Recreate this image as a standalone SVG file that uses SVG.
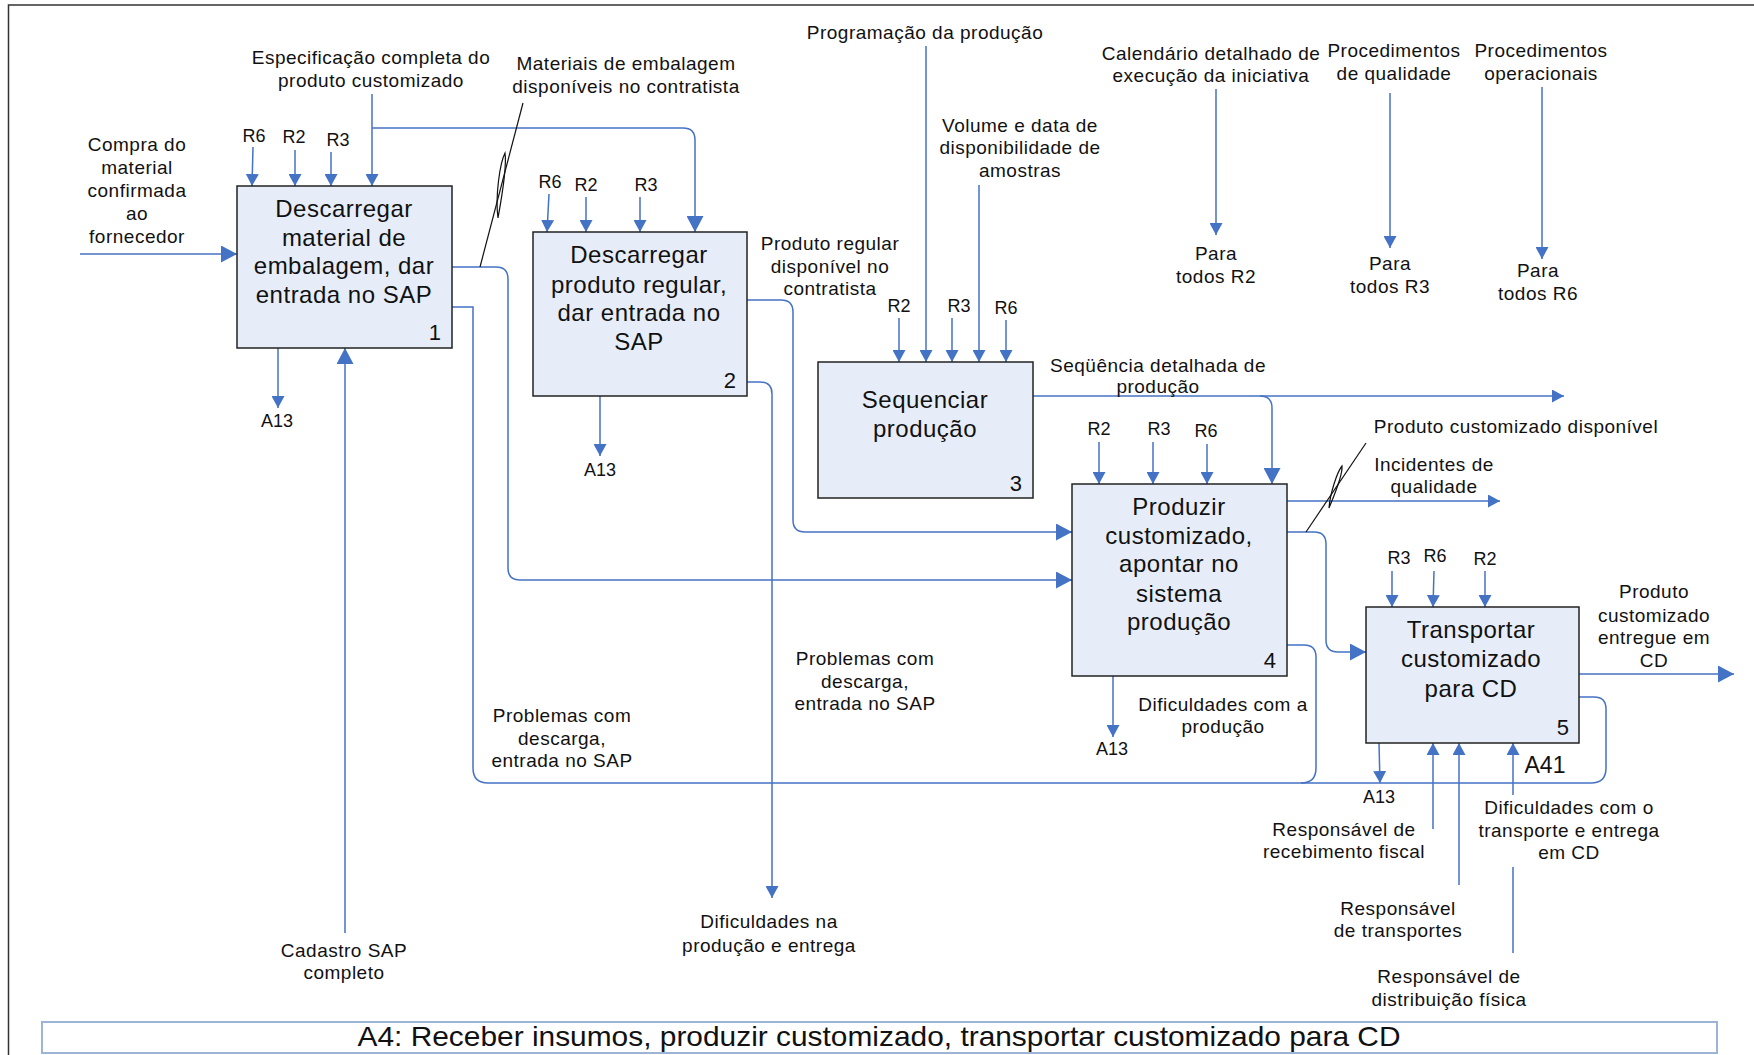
<svg xmlns="http://www.w3.org/2000/svg" width="1754" height="1055" viewBox="0 0 1754 1055">
<defs>
<marker id="s" markerUnits="userSpaceOnUse" markerWidth="12" markerHeight="13" refX="12" refY="6.5" orient="auto"><path d="M0,0 L12,6.5 L0,13 Z" fill="#4472C4"/></marker>
<marker id="l" markerUnits="userSpaceOnUse" markerWidth="16" markerHeight="17" refX="16" refY="8.5" orient="auto"><path d="M0,0 L16,8.5 L0,17 Z" fill="#4472C4"/></marker>
<style>
text{font-family:"Liberation Sans",Arial,sans-serif;fill:#111;text-anchor:middle}
.t{font-size:19px;letter-spacing:0.5px}
.r{font-size:18px}
.bt{font-size:24px;letter-spacing:0.5px}
.n{font-size:22px;text-anchor:end}
.box{fill:#E7EDF8;stroke:#222;stroke-width:1.5}
.c{fill:none;stroke:#4472C4;stroke-width:1.5}
.k{fill:none;stroke:#111;stroke-width:1.2}
</style>
</defs>
<rect width="1754" height="1055" fill="#fff"/>
<path d="M8.5,1055 V5 H1754" fill="none" stroke="#333" stroke-width="1.5"/>
<rect x="42" y="1022" width="1675" height="31" fill="#fff" stroke="#9DB4D6" stroke-width="2"/>
<text x="879" y="1046" style="font-size:28px" textLength="1043" lengthAdjust="spacingAndGlyphs">A4: Receber insumos, produzir customizado, transportar customizado para CD</text>

<g id="connectors">
<path class="c" d="M80,254 H237" marker-end="url(#l)"/>
<path class="c" d="M253,147 L252,186" marker-end="url(#s)"/>
<path class="c" d="M295,150 V186" marker-end="url(#s)"/>
<path class="c" d="M331,152 V186" marker-end="url(#s)"/>
<path class="c" d="M372,94 V186" marker-end="url(#s)"/>
<path class="c" d="M372,128 H683 Q695,128 695,140 V232" marker-end="url(#l)"/>
<path class="c" d="M278,348 V408" marker-end="url(#s)"/>
<path class="c" d="M345,933 V348" marker-end="url(#l)"/>
<path class="c" d="M452,267 H496 Q508,267 508,279 V568 Q508,580 520,580 H1072" marker-end="url(#l)"/>
<path class="c" d="M452,307 H473 V768 Q473,783 488,783 H1591 Q1606,783 1606,768 V709 Q1606,697 1594,697 H1579"/>
<path class="c" d="M1287,645 H1304 Q1316,645 1316,657 V768 Q1316,783 1301,783"/>
<path class="c" d="M549,194 L547,232" marker-end="url(#s)"/>
<path class="c" d="M586,197 V232" marker-end="url(#s)"/>
<path class="c" d="M640,197 V232" marker-end="url(#s)"/>
<path class="c" d="M600,396 V456" marker-end="url(#s)"/>
<path class="c" d="M747,300 H781 Q793,300 793,312 V520 Q793,532 805,532 H1072" marker-end="url(#l)"/>
<path class="c" d="M747,382 H760 Q772,382 772,394 V898" marker-end="url(#s)"/>
<path class="c" d="M926,46 V362" marker-end="url(#s)"/>
<path class="c" d="M979,185 V362" marker-end="url(#s)"/>
<path class="c" d="M899,318 V362" marker-end="url(#s)"/>
<path class="c" d="M952,318 V362" marker-end="url(#s)"/>
<path class="c" d="M1006,320 V362" marker-end="url(#s)"/>
<path class="c" d="M1033,396 H1564" marker-end="url(#s)"/>
<path class="c" d="M1260,396 Q1272,396 1272,408 V484" marker-end="url(#l)"/>
<path class="c" d="M1099,442 V484" marker-end="url(#s)"/>
<path class="c" d="M1153,442 V484" marker-end="url(#s)"/>
<path class="c" d="M1207,444 V484" marker-end="url(#s)"/>
<path class="c" d="M1287,501 H1500" marker-end="url(#s)"/>
<path class="c" d="M1287,532 H1314 Q1326,532 1326,544 V640 Q1326,652 1338,652 H1366" marker-end="url(#l)"/>
<path class="c" d="M1113,676 V737" marker-end="url(#s)"/>
<path class="c" d="M1392,571 V607" marker-end="url(#s)"/>
<path class="c" d="M1434,571 L1433,607" marker-end="url(#s)"/>
<path class="c" d="M1485,571 V607" marker-end="url(#s)"/>
<path class="c" d="M1579,674 H1734" marker-end="url(#l)"/>
<path class="c" d="M1379,743 L1380,783" marker-end="url(#s)"/>
<path class="c" d="M1433,829 V743" marker-end="url(#s)"/>
<path class="c" d="M1459,885 V743" marker-end="url(#s)"/>
<path class="c" d="M1513,795 V743" marker-end="url(#s)"/>
<path class="c" d="M1513,867 V953"/>
<path class="c" d="M1216,89 V235" marker-end="url(#s)"/>
<path class="c" d="M1390,93 V248" marker-end="url(#s)"/>
<path class="c" d="M1542,87 V259" marker-end="url(#s)"/>
<path class="k" d="M480,267 L523,103"/>
<path class="k" d="M498,218 C502,196 507,166 505,153 C500,163 495,196 498,218 Z"/>
<path class="k" d="M1306,532 L1366,443"/>
<path class="k" d="M1329,508 C1334,496 1343,475 1342,466 C1337,472 1330,494 1329,508 Z"/>
</g>

<g id="node1">
<rect class="box" x="237" y="186" width="215" height="162"/>
<text class="bt" x="344" y="217">Descarregar</text>
<text class="bt" x="344" y="246">material de</text>
<text class="bt" x="344" y="274">embalagem, dar</text>
<text class="bt" x="344" y="303">entrada no SAP</text>
<text class="n" x="441" y="340">1</text>
</g>
<g id="node2">
<rect class="box" x="533" y="232" width="214" height="164"/>
<text class="bt" x="639" y="263">Descarregar</text>
<text class="bt" x="639" y="293">produto regular,</text>
<text class="bt" x="639" y="321">dar entrada no</text>
<text class="bt" x="639" y="350">SAP</text>
<text class="n" x="736" y="388">2</text>
</g>
<g id="node3">
<rect class="box" x="818" y="362" width="215" height="136"/>
<text class="bt" x="925" y="408">Sequenciar</text>
<text class="bt" x="925" y="437">produção</text>
<text class="n" x="1022" y="491">3</text>
</g>
<g id="node4">
<rect class="box" x="1072" y="484" width="215" height="192"/>
<text class="bt" x="1179" y="515">Produzir</text>
<text class="bt" x="1179" y="544">customizado,</text>
<text class="bt" x="1179" y="572">apontar no</text>
<text class="bt" x="1179" y="602">sistema</text>
<text class="bt" x="1179" y="630">produção</text>
<text class="n" x="1276" y="668">4</text>
</g>
<g id="node5">
<rect class="box" x="1366" y="607" width="213" height="136"/>
<text class="bt" x="1471" y="638">Transportar</text>
<text class="bt" x="1471" y="667">customizado</text>
<text class="bt" x="1471" y="697">para CD</text>
<text class="n" x="1569" y="735">5</text>
</g>

<g id="labels">
<text class="t" x="137" y="151">Compra do</text>
<text class="t" x="137" y="174">material</text>
<text class="t" x="137" y="197">confirmada</text>
<text class="t" x="137" y="220">ao</text>
<text class="t" x="137" y="243">fornecedor</text>
<text class="t" x="371" y="64">Especificação completa do</text>
<text class="t" x="371" y="87">produto customizado</text>
<text class="t" x="626" y="70">Materiais de embalagem</text>
<text class="t" x="626" y="93">disponíveis no contratista</text>
<text class="t" x="925" y="39">Programação da produção</text>
<text class="t" x="1020" y="132">Volume e data de</text>
<text class="t" x="1020" y="154">disponibilidade de</text>
<text class="t" x="1020" y="177">amostras</text>
<text class="t" x="1211" y="60">Calendário detalhado de</text>
<text class="t" x="1211" y="82">execução da iniciativa</text>
<text class="t" x="1394" y="57">Procedimentos</text>
<text class="t" x="1394" y="80">de qualidade</text>
<text class="t" x="1541" y="57">Procedimentos</text>
<text class="t" x="1541" y="80">operacionais</text>
<text class="t" x="1216" y="260">Para</text>
<text class="t" x="1216" y="283">todos R2</text>
<text class="t" x="1390" y="270">Para</text>
<text class="t" x="1390" y="293">todos R3</text>
<text class="t" x="1538" y="277">Para</text>
<text class="t" x="1538" y="300">todos R6</text>
<text class="r" x="254" y="142">R6</text>
<text class="r" x="294" y="143">R2</text>
<text class="r" x="338" y="146">R3</text>
<text class="r" x="550" y="188">R6</text>
<text class="r" x="586" y="191">R2</text>
<text class="r" x="646" y="191">R3</text>
<text class="t" x="830" y="250">Produto regular</text>
<text class="t" x="830" y="273">disponível no</text>
<text class="t" x="830" y="295">contratista</text>
<text class="r" x="899" y="312">R2</text>
<text class="r" x="959" y="312">R3</text>
<text class="r" x="1006" y="314">R6</text>
<text class="t" x="1158" y="372">Seqüência detalhada de</text>
<text class="t" x="1158" y="393">produção</text>
<text class="r" x="1099" y="435">R2</text>
<text class="r" x="1159" y="435">R3</text>
<text class="r" x="1206" y="437">R6</text>
<text class="t" x="1516" y="433">Produto customizado disponível</text>
<text class="t" x="1434" y="471">Incidentes de</text>
<text class="t" x="1434" y="493">qualidade</text>
<text class="r" x="1399" y="564">R3</text>
<text class="r" x="1435" y="562">R6</text>
<text class="r" x="1485" y="565">R2</text>
<text class="t" x="1654" y="598">Produto</text>
<text class="t" x="1654" y="622">customizado</text>
<text class="t" x="1654" y="644">entregue em</text>
<text class="t" x="1654" y="667">CD</text>
<text class="r" x="277" y="427">A13</text>
<text class="r" x="600" y="476">A13</text>
<text class="r" x="1112" y="755">A13</text>
<text class="r" x="1379" y="803">A13</text>
<text class="t" x="1223" y="711">Dificuldades com a</text>
<text class="t" x="1223" y="733">produção</text>
<text class="t" x="562" y="722">Problemas com</text>
<text class="t" x="562" y="745">descarga,</text>
<text class="t" x="562" y="767">entrada no SAP</text>
<text class="t" x="865" y="665">Problemas com</text>
<text class="t" x="865" y="688">descarga,</text>
<text class="t" x="865" y="710">entrada no SAP</text>
<text class="t" x="769" y="928">Dificuldades na</text>
<text class="t" x="769" y="952">produção e entrega</text>
<text class="t" x="344" y="957">Cadastro SAP</text>
<text class="t" x="344" y="979">completo</text>
<text class="t" x="1344" y="836">Responsável de</text>
<text class="t" x="1344" y="858">recebimento fiscal</text>
<text class="t" x="1398" y="915">Responsável</text>
<text class="t" x="1398" y="937">de transportes</text>
<text class="t" x="1569" y="814">Dificuldades com o</text>
<text class="t" x="1569" y="837">transporte e entrega</text>
<text class="t" x="1569" y="859">em CD</text>
<text class="t" x="1449" y="983">Responsável de</text>
<text class="t" x="1449" y="1006">distribuição física</text>
<text x="1545" y="773" style="font-size:23px">A41</text>
</g>
</svg>
